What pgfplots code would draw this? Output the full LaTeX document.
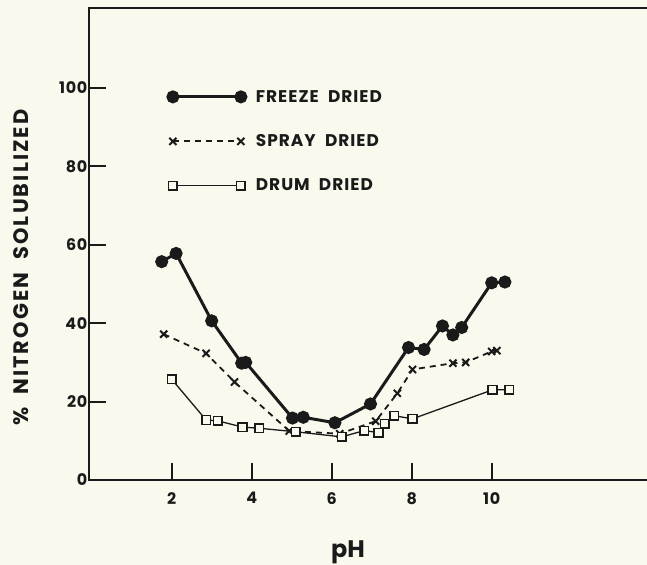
\documentclass[border=0pt]{standalone}
\usepackage{fontspec}
\setmainfont{Poppins}
\newfontfamily\legfont{Poppins}[LetterSpace=6]
\newfontfamily\tickfont{Poppins}[LetterSpace=4]
\newfontfamily\labfont{Poppins}[LetterSpace=10]
\usepackage{pgfplots}
\pgfplotsset{compat=1.18}
\definecolor{bg}{HTML}{F9F9EE}
\definecolor{ink}{HTML}{1A1A1A}
\begin{document}
\begin{tikzpicture}
\fill[bg] (-89.3bp,-85bp) rectangle (557.7bp,480bp);
\begin{axis}[
  x=40bp, y=3.92bp,
  xmin=-0.06, xmax=14, ymin=0, ymax=120.4,
  axis line style={line width=2.4bp, ink},
  xtick={2,4,6,8,10}, ytick={0,20,40,60,80,100},
  xtick pos=bottom, ytick pos=left,
  tick align=inside, major tick length=17bp,
  tick style={line width=2.2bp, ink},
  /pgf/number format/assume math mode=true,
  ticklabel style={font=\tickfont\fontsize{16}{18}\selectfont\bfseries, text=ink},
  xticklabel style={yshift=-9bp},
  yticklabel style={xshift=1.5bp},
  xlabel={pH},
  xlabel style={at={(axis description cs:0.46,-0.165)}, anchor=base, font=\fontsize{24}{28}\selectfont\bfseries, text=ink},
  ylabel={\%\ \ NITROGEN\ \ SOLUBILIZED},
  ylabel style={at={(axis description cs:-0.121,0.45)}, anchor=center, rotate=0, font=\labfont\fontsize{21}{24}\selectfont\bfseries, text=ink},
  legend style={draw=none, fill=none, at={(axis cs:1.9,100)}, anchor=north west,
    font=\legfont\fontsize{17}{19}\selectfont\bfseries, text=ink, row sep=27bp, inner sep=0pt},
  legend cell align=left,
  legend image code/.code={\draw[#1] plot coordinates {(0bp,0bp) (68bp,0bp)};},
  clip=false,
]
\addplot[ink, line width=3bp, mark=*, mark size=5bp, mark options={fill=ink}] coordinates {
(1.75,55.7)(2.11,57.8)(3.0,40.6)(3.75,29.8)(3.85,30)(5.02,15.8)(5.29,16.0)(6.08,14.6)(6.97,19.4)(7.92,33.8)(8.31,33.3)(8.77,39.3)(9.03,37)(9.25,38.9)(10.0,50.3)(10.33,50.5)};
\addlegendentry{\hspace{8bp}FREEZE\ \ DRIED}
\addplot[ink, line width=1.8bp, dash pattern=on 6bp off 5bp, mark=x, mark size=5bp, mark options={solid, line width=2bp}] coordinates {
(1.8,37.2)(2.86,32.3)(3.57,25)(4.94,12.5)(6.2,11.8)(7.1,15)(7.64,22.1)(8.02,28.2)(9.03,29.8)(9.35,30)(10.0,32.8)(10.13,33)};
\addlegendentry{\hspace{8bp}SPRAY\ \ DRIED}
\addplot[ink, line width=1.3bp, mark=square*, mark size=4.3bp, mark options={fill=bg, line width=1.5bp}] coordinates {
(2.0,25.7)(2.86,15.3)(3.15,15.1)(3.77,13.5)(4.19,13.2)(5.1,12.3)(6.25,11.0)(6.81,12.6)(7.17,12.1)(7.33,14.3)(7.56,16.4)(8.02,15.6)(10.02,23)(10.44,23)};
\addlegendentry{\hspace{8bp}DRUM\ \ DRIED}
\end{axis}
\pgfresetboundingbox
\path[use as bounding box] (-89.3bp,-85bp) rectangle (557.7bp,480bp);
\end{tikzpicture}
\end{document}
